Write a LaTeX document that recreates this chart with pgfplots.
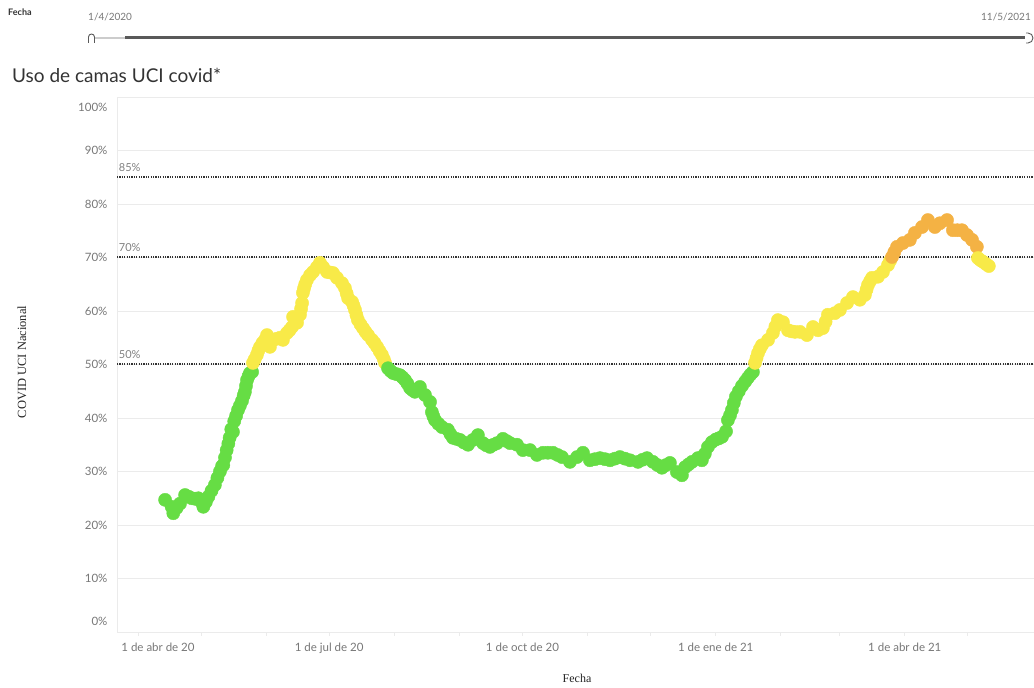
\documentclass[border=0pt]{standalone}
\usepackage{pgfplots}
\pgfplotsset{compat=1.18}
\usepackage{pgfplotstable}
\usepackage{fontspec}
\setmainfont{Lato}
\newfontfamily\serif{Liberation Serif}
\definecolor{cgreen}{HTML}{66DD44}
\definecolor{cyellow}{HTML}{F8EA48}
\definecolor{corange}{HTML}{F4B244}
\definecolor{ticktext}{HTML}{777777}
\definecolor{gridc}{HTML}{EBEBEB}
\definecolor{refline}{HTML}{333333}

% days since 1 Apr 2020, % of ICU beds used, colour class
\pgfplotstableread{
d v c
12.9 24.7 g
16.0 23.4 g
16.8 22.2 g
18.4 23.2 g
20.0 24.0 g
22.4 25.6 g
24.0 25.3 g
25.6 25.0 g
27.2 24.9 g
28.7 25.0 g
30.0 24.4 g
31.1 23.4 g
32.3 24.3 g
33.5 25.3 g
35.0 26.4 g
36.6 27.5 g
37.8 28.8 g
39.0 30.0 g
40.0 31.0 g
40.6 31.2 g
41.4 32.6 g
42.2 34.0 g
43.0 35.2 g
43.6 36.3 g
44.4 37.9 g
45.2 37.4 g
45.8 39.4 g
46.7 40.4 g
47.6 41.5 g
48.5 42.3 g
49.5 43.2 g
50.3 44.2 g
50.9 44.9 g
51.4 46.0 g
51.9 47.1 g
52.6 47.8 g
53.3 48.4 g
54.3 48.6 g
54.7 50.3 y
55.6 51.0 y
56.6 51.8 y
57.3 52.6 y
58.1 53.3 y
59.2 54.0 y
60.4 54.6 y
61.4 55.5 y
62.8 53.3 y
64.3 54.6 y
66.0 54.8 y
67.6 55.0 y
69.0 54.6 y
70.9 55.9 y
72.1 56.4 y
73.3 57.0 y
73.8 58.9 y
75.7 57.8 y
77.1 59.3 y
77.6 60.4 y
78.1 61.5 y
78.5 63.4 y
79.0 64.2 y
79.6 65.0 y
80.4 65.8 y
81.9 66.7 y
83.3 67.3 y
85.2 68.2 y
86.6 69.0 y
88.1 68.2 y
90.0 67.3 y
91.4 67.2 y
92.8 67.1 y
94.7 66.2 y
97.1 65.2 y
98.5 64.3 y
99.3 63.3 y
100.0 62.4 y
101.9 61.7 y
102.6 61.0 y
103.3 60.2 y
104.0 59.2 y
104.7 58.3 y
105.9 57.5 y
107.1 56.8 y
108.3 56.1 y
109.5 55.5 y
111.4 54.6 y
112.6 54.0 y
113.8 53.3 y
115.0 52.5 y
116.1 51.8 y
117.0 51.0 y
117.6 50.3 y
119.0 49.3 g
120.2 48.8 g
121.4 48.4 g
123.0 48.2 g
124.7 48.0 g
125.9 47.6 g
127.1 47.1 g
128.3 46.4 g
129.5 45.6 g
130.7 45.2 g
131.8 44.9 g
134.2 45.8 g
136.6 44.3 g
139.0 43.0 g
139.9 41.1 g
140.6 40.3 g
141.4 39.6 g
143.0 38.9 g
144.7 38.3 g
147.5 37.8 g
148.7 37.0 g
149.9 36.3 g
151.6 36.1 g
153.3 35.9 g
155.2 35.4 g
157.1 35.0 g
159.4 35.9 g
161.8 36.8 g
164.2 35.3 g
165.8 34.9 g
167.5 34.6 g
169.2 35.0 g
170.9 35.3 g
173.7 36.1 g
175.4 35.7 g
177.1 35.3 g
180.4 35.0 g
183.2 34.0 g
186.6 34.0 g
189.9 33.1 g
192.8 33.5 g
195.1 33.5 g
197.5 33.5 g
199.7 33.1 g
201.8 32.7 g
205.6 31.8 g
209.0 32.7 g
211.8 33.5 g
215.1 32.1 g
217.5 32.3 g
219.9 32.5 g
222.3 32.3 g
224.7 32.1 g
227.0 32.4 g
229.4 32.7 g
231.8 32.4 g
234.2 32.1 g
238.0 31.8 g
240.2 32.2 g
242.3 32.5 g
245.1 31.8 g
247.3 31.2 g
249.4 30.7 g
251.3 31.2 g
253.2 31.6 g
256.5 29.9 g
258.9 29.3 g
260.4 30.8 g
262.0 31.3 g
263.7 31.8 g
266.5 32.5 g
268.4 32.1 g
269.8 33.3 g
271.3 34.6 g
273.2 35.5 g
275.1 36.0 g
276.5 36.2 g
278.0 36.5 g
279.9 37.5 g
280.8 39.6 g
281.8 40.5 g
282.7 41.5 g
283.6 42.8 g
284.6 44.0 g
286.0 45.0 g
287.5 46.0 g
289.0 46.8 g
290.3 47.5 g
291.5 48.1 g
292.7 48.6 g
293.7 50.3 y
294.4 51.2 y
295.1 52.1 y
296.0 52.9 y
297.0 53.6 y
299.9 54.6 y
302.2 55.9 y
303.4 57.1 y
304.6 58.3 y
307.0 57.9 y
309.4 56.4 y
311.0 56.2 y
312.7 56.1 y
315.1 56.1 y
318.4 55.5 y
321.3 57.0 y
323.7 56.4 y
326.0 56.8 y
327.3 58.0 y
328.4 59.3 y
331.7 59.6 y
334.1 60.2 y
337.5 61.5 y
340.3 62.6 y
343.6 62.1 y
346.0 63.0 y
346.8 64.0 y
347.5 64.9 y
348.5 65.6 y
349.4 66.2 y
352.2 66.4 y
354.6 67.3 y
357.0 68.6 y
358.0 69.4 y
358.9 70.1 o
360.0 71.0 o
361.3 72.0 o
364.1 72.7 o
367.4 73.3 o
369.8 74.6 o
373.2 75.7 o
376.0 77.0 o
379.3 75.7 o
381.7 76.4 o
385.1 77.0 o
387.9 75.1 o
390.0 75.1 o
392.2 75.1 o
394.6 74.2 o
397.0 73.3 o
399.3 72.0 o
399.8 69.9 y
401.0 69.5 y
402.2 69.2 y
403.6 68.8 y
405.0 68.4 y
}\uci

\begin{document}
\begin{tikzpicture}
\path[use as bounding box] (0pt,0pt) rectangle (1034pt,688pt);

% date filter at the top
\node[anchor=west, inner sep=0, font=\fontsize{9}{10}\selectfont\bfseries, text=black!80] at (8pt,676pt) {Fecha};
\node[anchor=west, inner sep=0, font=\fontsize{10}{11}\selectfont, text=ticktext] at (88pt,671pt) {1/4/2020};
\node[anchor=east, inner sep=0, font=\fontsize{10}{11}\selectfont, text=ticktext] at (1031pt,671pt) {11/5/2021};
\draw[black!20, line width=2.5pt] (94pt,650pt) -- (125pt,650pt);
\draw[black!65, line width=3pt] (125pt,650pt) -- (1025pt,650pt);
\draw[black!65, line width=0.9pt] (88.5pt,645pt) -- (88.5pt,651pt) arc[start angle=180, end angle=0, radius=3pt] -- (94.5pt,645pt);
\draw[black!65, line width=0.9pt] (1026pt,655pt) -- (1028pt,655pt) arc[start angle=90, end angle=-90, radius=5pt] -- (1026pt,645pt);

\node[anchor=west, inner sep=0, font=\fontsize{19}{22}\selectfont, text=black!80] at (12pt,613pt) {Uso de camas UCI covid*};

\node[rotate=90, inner sep=0, font=\serif\fontsize{12.5}{14}\selectfont, text=black!85] at (22pt,326pt) {COVID UCI Nacional};
\node[inner sep=0, font=\serif\fontsize{12}{14}\selectfont, text=black!85] at (577pt,10pt) {Fecha};

\begin{axis}[
    at={(117pt,56pt)}, anchor=south west,
    scale only axis, width=917pt, height=535pt,
    xmin=-10, xmax=426.5, ymin=0, ymax=100,
    axis line style={draw=gridc, line width=0.8pt},
    xtick={0,91,183,275,365},
    xticklabels={\hspace*{40pt}1 de abr de 20, 1 de jul de 20, 1 de oct de 20, 1 de ene de 21, 1 de abr de 21},
    minor xtick={30,61,122,153,214,244,306,334,395},
    tick pos=left, tick align=outside,
    major tick length=4pt, minor tick length=4pt,
    xtick style={draw=gridc, line width=0.8pt},
    ytick style={draw=none},
    ytick={10,20,...,90},
    yticklabels={10\%,20\%,30\%,40\%,50\%,60\%,70\%,80\%,90\%},
    extra y ticks={1.9,98.1},
    extra y tick labels={0\%,100\%},
    extra y tick style={grid=none},
    ymajorgrids, grid style={gridc, line width=0.8pt},
    ticklabel style={font=\fontsize{11.5}{13}\selectfont, text=ticktext},
    yticklabel style={xshift=-2pt},
    xticklabel style={yshift=-3pt},
]
\addplot[scatter, only marks, scatter src=explicit symbolic, mark size=6.6pt,
    scatter/classes={
        g={mark=*, draw=cgreen, fill=cgreen},
        y={mark=*, draw=cyellow, fill=cyellow},
        o={mark=*, draw=corange, fill=corange}}]
    table[x=d, y=v, meta=c]{\uci};

% reference levels
\addplot[refline, line width=2pt, dash pattern=on 1.2pt off 1.2pt] coordinates {(-10,85) (426.5,85)};
\addplot[refline, line width=2pt, dash pattern=on 1.2pt off 1.2pt] coordinates {(-10,70) (426.5,70)};
\addplot[refline, line width=2pt, dash pattern=on 1.2pt off 1.2pt] coordinates {(-10,50) (426.5,50)};
\node[anchor=south west, inner sep=0, font=\fontsize{11}{12}\selectfont, text=black!50] at (axis cs:-9.2,86.0) {85\%};
\node[anchor=south west, inner sep=0, font=\fontsize{11}{12}\selectfont, text=black!50] at (axis cs:-9.2,71.0) {70\%};
\node[anchor=south west, inner sep=0, font=\fontsize{11}{12}\selectfont, text=black!50] at (axis cs:-9.2,51.0) {50\%};
\end{axis}
\end{tikzpicture}
\end{document}
